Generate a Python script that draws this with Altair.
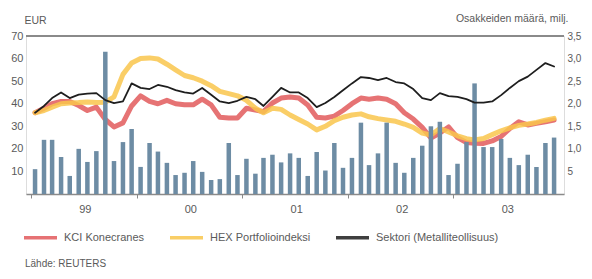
import altair as alt
import pandas as pd

# ---- data ----
months = [f"{1999 + i // 12}-{i % 12 + 1:02d}-15" for i in range(60)]

series_names = ["KCI Konecranes", "HEX Portfolioindeksi", "Sektori (Metalliteollisuus)"]
series_colors = ["#e25a5c", "#f9c64c", "#1e1e1e"]
series_widths = [5, 5, 1.8]

kci = [36, 38, 40, 41, 41, 39.2, 37, 38.5, 33, 29.7, 31.5, 39,
       43.5, 41, 40, 41.5, 40, 39.5, 39.5, 42, 39.5, 34, 33.7, 33.7,
       38, 37.2, 36.5, 40.3, 42.5, 43, 42.5, 39.4, 34, 33.7, 34.5, 37,
       40, 42.5, 42, 42.5, 42, 40, 36, 33.2, 29.5, 24.8, 27, 29.7,
       25, 22.8, 22.5, 22.4, 23.5, 25.5, 29, 32, 30.6, 31.3, 32, 32.8]

hex_idx = [36, 37, 38.5, 40, 40.3, 40.5, 40.8, 40.5, 40.7, 43, 53, 58,
           60, 60.3, 59.8, 57.5, 55, 52.5, 51.5, 50, 48, 45.5, 44.5, 43.5,
           41.5, 38, 36, 38, 37.5, 35, 33, 31, 28.4, 30, 32.5, 34,
           35, 35.5, 34.2, 33.4, 32.8, 32.2, 31, 29.5, 27, 26.1, 29, 27.5,
           25.8, 24.5, 23.9, 24.6, 26.3, 28, 29.3, 30.4, 31, 31.7, 32.7, 33.5]

sektori = [36, 39, 42.5, 45, 42.5, 44, 44.5, 44.7, 41.6, 40.3, 41, 49,
           47, 46.5, 48.3, 47.5, 46, 45, 44.5, 47, 44, 41, 40.3, 41.3,
           43, 42, 39, 43, 47, 45, 45, 42.5, 38.5, 40.3, 43, 46,
           49, 51.8, 51.4, 50.5, 51.4, 49.6, 49, 46.5, 42.5, 41.6, 44.7, 43.4,
           43, 42, 40.5, 40.5, 41, 43.8, 47, 50, 52, 55, 58, 56.5]

volume = [0.55, 1.2, 1.2, 0.82, 0.4, 1.0, 0.71, 0.95, 3.15, 0.73, 1.15, 1.44,
          0.6, 1.13, 0.94, 0.69, 0.42, 0.47, 0.73, 0.49, 0.31, 0.33, 1.13, 0.42,
          0.78, 0.45, 0.8, 0.87, 0.7, 0.9, 0.8, 0.4, 0.93, 0.52, 1.13, 0.58,
          0.8, 1.58, 0.64, 0.9, 1.58, 0.69, 0.47, 0.8, 1.07, 1.5, 1.6, 0.42,
          0.67, 1.15, 2.45, 1.04, 1.04, 1.22, 0.8, 0.64, 0.87, 0.6, 1.13, 1.25]

left_ticks = [10, 20, 30, 40, 50, 60, 70]
right_ticks = [0.5, 1.0, 1.5, 2.0, 2.5, 3.0, 3.5]
year_ticks = [1999, 2000, 2001, 2002, 2003]

lines_df = pd.DataFrame({
    "date": months * 3,
    "series": [series_names[0]] * 60 + [series_names[1]] * 60 + [series_names[2]] * 60,
    "value": kci + hex_idx + sektori,
})
bars_df = pd.DataFrame({"date": months, "volume": volume})
note_df = pd.DataFrame({"t": ["Lähde: REUTERS"]})

FONT = "Liberation Sans"
TXT = "#5a5a5a"
GRAY = "#8a8a8a"
W = 538

x_enc = alt.X(
    "date:T",
    scale=alt.Scale(type="utc",
                    domain=[alt.DateTime(year=1999, month=1, date=1, utc=True),
                            alt.DateTime(year=2004, month=1, date=1, utc=True)]),
    axis=alt.Axis(values=[alt.DateTime(year=y, month=1, date=1, utc=True) for y in year_ticks],
                  format="%y", labelOffset=W / 10, labelFlush=False, grid=False,
                  tickSize=4, tickColor=GRAY, domainColor=GRAY, domainWidth=1.5,
                  labelPadding=5, labelFontSize=11, labelColor=TXT, title=None),
)

color_scale = alt.Scale(domain=series_names, range=series_colors)
legend = alt.Legend(orient="none", legendX=-4, legendY=183, direction="horizontal",
                    title=None, symbolType="stroke", symbolSize=1089, symbolStrokeWidth=3.5,
                    labelFontSize=11, labelColor=TXT, columnPadding=18,
                    labelOffset=5, padding=0)

y_left = alt.Scale(domain=[0, 70])

top_rule = alt.Chart(bars_df).mark_rule(color=GRAY, strokeWidth=1.5).encode(
    y=alt.Y(datum=70, scale=y_left, axis=None)
)


def line_layer(i, with_axis=False):
    axis = alt.Axis(values=left_ticks, title="EUR", titleAngle=0, titleAlign="left",
                    titleBaseline="middle", titleX=-2, titleY=-16, titleFontSize=10.5,
                    titleFontWeight="normal", titleColor=TXT,
                    domain=False, ticks=False, grid=False, labelPadding=3,
                    labelFontSize=11, labelColor=TXT) if with_axis else None
    return alt.Chart(lines_df).transform_filter(
        alt.datum.series == series_names[i]
    ).mark_line(opacity=0.85 if i < 2 else 1.0, strokeWidth=series_widths[i],
                strokeCap="round", strokeJoin="round").encode(
        x=x_enc,
        y=alt.Y("value:Q", scale=y_left, axis=axis),
        color=alt.Color("series:N", scale=color_scale, legend=legend),
    )


bars = alt.Chart(bars_df).mark_bar(color="#6d8ca4", width=4.5).encode(
    x=x_enc,
    y=alt.Y("volume:Q", scale=alt.Scale(domain=[0, 3.5]),
            axis=alt.Axis(orient="right", values=right_ticks,
                          labelExpr="datum.value == 0.5 ? '5' : replace(format(datum.value, '.1f'), '.', ',')",
                          title="Osakkeiden määrä, milj.", titleAngle=0, titleAlign="right",
                          titleBaseline="middle", titleX=4, titleY=-18, titleFontSize=10.5,
                          titleFontWeight="normal", titleColor=TXT,
                          domain=False, ticks=False, grid=False, labelPadding=3,
                          labelFontSize=10, labelColor=TXT)),
)

note = alt.Chart(note_df).mark_text(align="left", baseline="middle", fontSize=10,
                                    color=TXT, font=FONT).encode(
    text="t:N", x=alt.value(-1), y=alt.value(228)
)

chart = alt.layer(
    top_rule, line_layer(0, with_axis=True), line_layer(1), bars, line_layer(2), note
).resolve_scale(y="independent").properties(
    width=W, height=158,
    autosize=alt.AutoSizeParams(type="none"),
    padding={"left": 18, "top": 28, "right": 20, "bottom": 77},
).configure_view(stroke=None).configure(font=FONT, background="white")

chart.save("out.html", embed_options={"renderer": "svg", "actions": False})
